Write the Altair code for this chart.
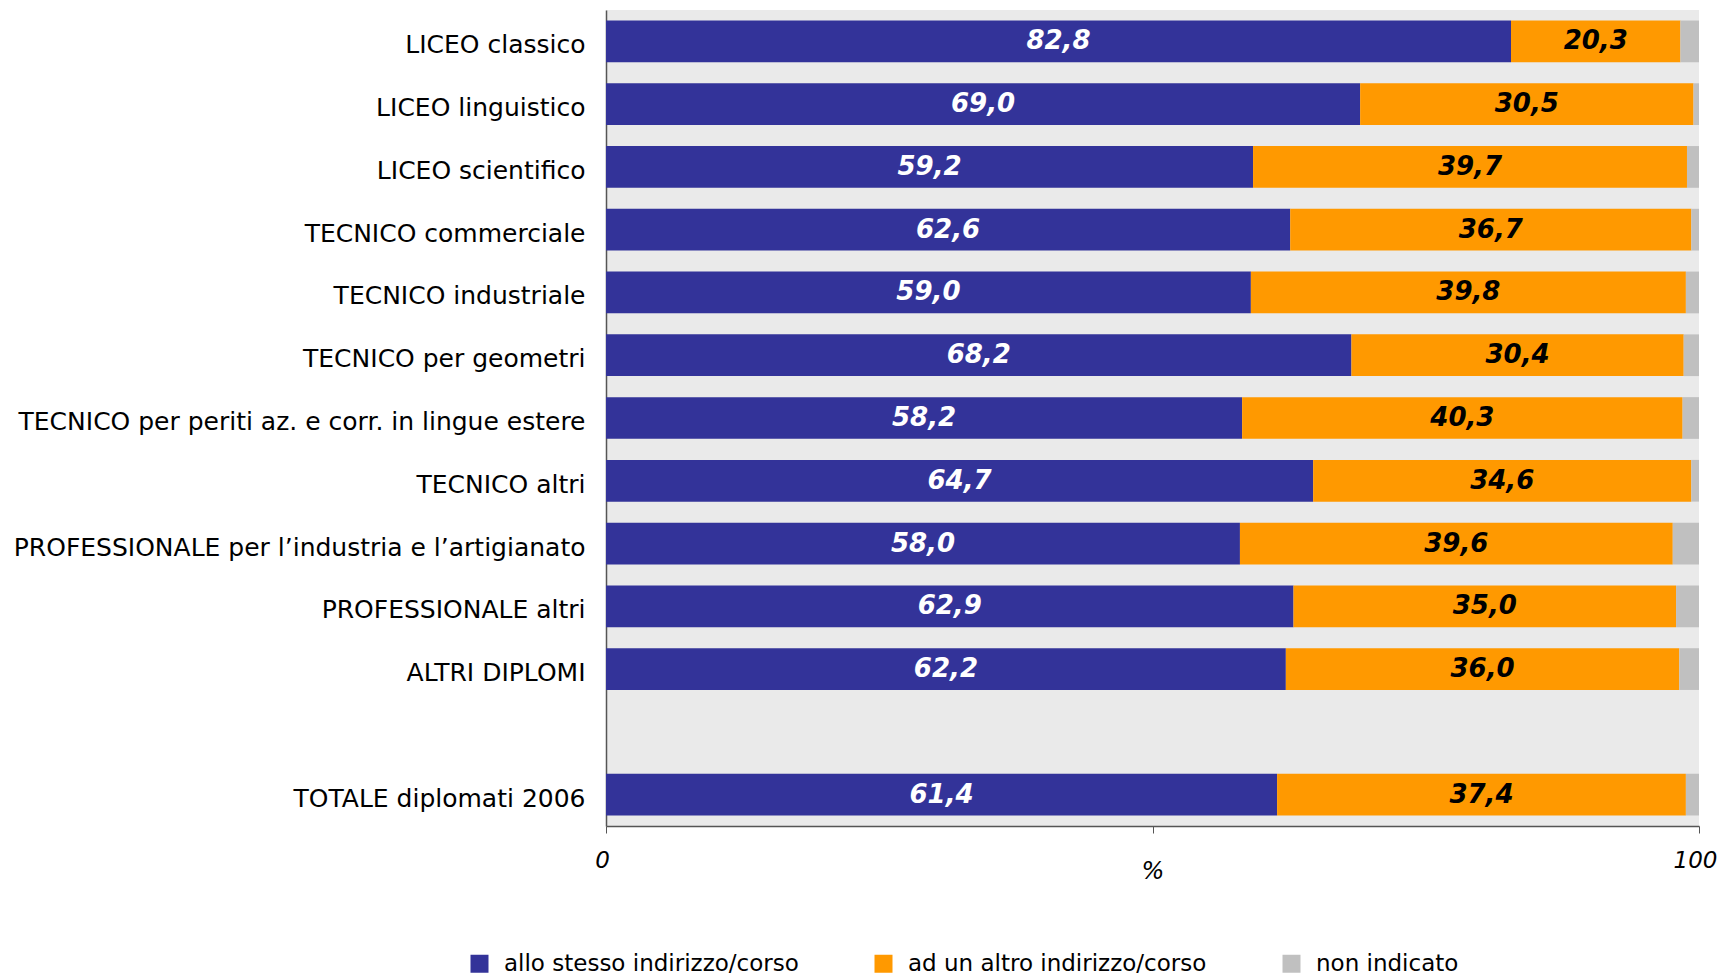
import altair as alt
import pandas as pd

categories = [
    "LICEO classico",
    "LICEO linguistico",
    "LICEO scientifico",
    "TECNICO commerciale",
    "TECNICO industriale",
    "TECNICO per geometri",
    "TECNICO per periti az. e corr. in lingue estere",
    "TECNICO altri",
    "PROFESSIONALE per l\u2019industria e l\u2019artigianato",
    "PROFESSIONALE altri",
    "ALTRI DIPLOMI",
    "TOTALE diplomati 2006",
]
series_names = ["allo stesso indirizzo/corso", "ad un altro indirizzo/corso", "non indicato"]
series_colors = ["#333399", "#FF9900", "#C0C0C0"]

same_course = [82.8, 69.0, 59.2, 62.6, 59.0, 68.2, 58.2, 64.7, 58.0, 62.9, 62.2, 61.4]
other_course = [15.5, 30.5, 39.7, 36.7, 39.8, 30.4, 40.3, 34.6, 39.6, 35.0, 36.0, 37.4]
other_labels = [20.3, 30.5, 39.7, 36.7, 39.8, 30.4, 40.3, 34.6, 39.6, 35.0, 36.0, 37.4]
not_given = [1.7, 0.5, 1.1, 0.7, 1.2, 1.4, 1.5, 0.7, 2.4, 2.1, 1.8, 1.2]

# band order including an empty slot before the total
y_domain = categories[:-1] + [" "] + categories[-1:]

def fmt(v):
    return f"{v:.1f}".replace(".", ",")

rows = []
for i, c in enumerate(categories):
    rows.append(dict(cat=c, series=series_names[0], value=same_course[i], order=0, label=fmt(same_course[i])))
    rows.append(dict(cat=c, series=series_names[1], value=other_course[i], order=1, label=fmt(other_labels[i])))
    rows.append(dict(cat=c, series=series_names[2], value=not_given[i], order=2, label=""))
df = pd.DataFrame(rows)

FONT = "DejaVu Sans"

y_scale = alt.Scale(domain=y_domain, paddingInner=0.335, paddingOuter=0.1675)

y_enc = alt.Y(
    "cat:N",
    sort=y_domain,
    scale=y_scale,
    axis=alt.Axis(
        title=None, ticks=False, labelPadding=21, labelFontSize=25, labelFont=FONT,
        labelColor="#000000", domainColor="#555555", domainWidth=1.5, labelLimit=800,
        labelOffset=4,
    ),
)

base = alt.Chart(df)

bars = base.mark_bar().encode(
    x=alt.X(
        "value:Q",
        stack="zero",
        scale=alt.Scale(domain=[0, 100], nice=False),
        axis=alt.Axis(
            values=[0, 50, 100], grid=False, tickSize=7, tickColor="#555555",
            domainColor="#555555", domainWidth=1.5,
            labelExpr="datum.value == 50 ? '' : datum.label",
            labelFontSize=23, labelFont=FONT, labelFontStyle="italic", labelColor="#000000",
            labelPadding=16, labelFlush=False, labelOffset=-4,
            title="%", titleFontSize=24, titleFont=FONT, titleFontStyle="italic",
            titleFontWeight="normal", titleY=45, titleBaseline="middle", titleColor="#000000",
        ),
    ),
    y=y_enc,
    color=alt.Color(
        "series:N",
        scale=alt.Scale(domain=series_names, range=series_colors),
        legend=alt.Legend(
            title=None, orient="none", direction="horizontal", legendX=-138, legendY=942,
            symbolType="square", symbolSize=324, symbolStrokeWidth=0, labelFontSize=23,
            labelFont=FONT, labelColor="#000000", labelOffset=13, columnPadding=73,
            labelLimit=600,
        ),
    ),
    order=alt.Order("order:Q"),
)

texts = base.transform_stack(
    stack="value", groupby=["cat"], as_=["v0", "v1"], sort=[alt.SortField("order")]
).transform_calculate(
    mid="(datum.v0 + datum.v1) / 2"
).transform_filter(
    "datum.label != ''"
).mark_text(
    font=FONT, fontSize=26, fontWeight="bold", fontStyle="italic", baseline="middle", align="center"
).encode(
    x=alt.X("mid:Q"),
    y=alt.Y("cat:N", sort=y_domain, scale=y_scale),
    text="label:N",
    color=alt.condition(
        f"datum.series == '{series_names[0]}'", alt.value("#FFFFFF"), alt.value("#000000")
    ),
)

chart = alt.layer(bars, texts).properties(
    width=1093,
    height=816,
    autosize=alt.AutoSizeParams(type="none"),
    padding={"left": 598, "top": 2, "right": 19, "bottom": 152},
    background="#FFFFFF",
).configure_view(
    fill="#EAEAEA", stroke=None
)

chart.save("out.html", embed_options={"renderer": "svg", "actions": False})
